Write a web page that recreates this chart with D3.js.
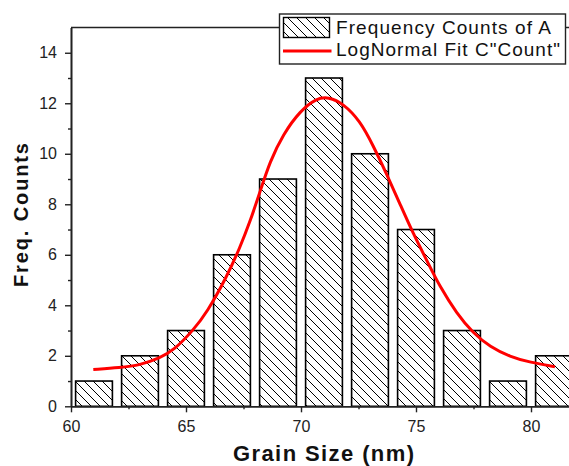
<!DOCTYPE html>
<html>
<head>
<meta charset="utf-8">
<script src="https://cdn.jsdelivr.net/npm/d3@7"></script>
<style>
  body { margin: 0; background: #fff; }
  svg { display: block; font-family: "Liberation Sans", Arial, sans-serif; }
</style>
</head>
<body>
<div id="chart"></div>
<script>
// Histogram bins (centre of each bin, width 2 nm)
const binCenters = [61, 63, 65, 67, 69, 71, 73, 75, 77, 79, 81];
const counts = [1, 2, 3, 6, 9, 13, 10, 7, 3, 1, 2];

// LogNormal fit curve
const fitX = [60.97, 62.13, 63.0, 63.87, 64.45, 65.32, 65.9, 66.77, 67.35, 67.78, 68.22, 68.65,
  69.23, 69.96, 70.68, 71.19, 71.84, 72.57, 73.14, 73.72, 74.3, 74.88, 75.47, 76.04,
  76.77, 77.49, 78.22, 79.09, 79.96, 81.04];
const fitY = [1.46, 1.53, 1.63, 1.92, 2.2, 3.02, 3.7, 5.12, 6.3, 7.3, 8.5, 9.7,
  10.78, 11.7, 12.2, 12.25, 11.99, 11.3, 10.32, 9.2, 8.02, 6.83, 5.78, 4.73,
  3.68, 2.89, 2.36, 1.96, 1.74, 1.57];

const xTicks = [60, 65, 70, 75, 80];
const xMinor = [62.5, 67.5, 72.5, 77.5];
const yTicks = [0, 2, 4, 6, 8, 10, 12, 14];
const yMinor = [1, 3, 5, 7, 9, 11, 13];

const legendLabels = ["Frequency Counts of A", "LogNormal Fit C\"Count\""];

const W = 569, H = 466;
const svg = d3.select("#chart").append("svg")
  .attr("width", W)
  .attr("height", H);

// hatch pattern
const defs = svg.append("defs");
const pat = defs.append("pattern")
  .attr("id", "hatch")
  .attr("patternUnits", "userSpaceOnUse")
  .attr("width", 9)
  .attr("height", 9);
pat.append("rect").attr("width", 9).attr("height", 9).attr("fill", "#fff");
pat.append("path")
  .attr("d", "M-2,-2 L11,11 M-2,7 L2,11 M7,-2 L11,2")
  .attr("stroke", "#000")
  .attr("stroke-width", 1);

// Scales
const x = d3.scaleLinear().domain([60, 82]).range([71, 577]);
const y = d3.scaleLinear().domain([0, 15]).range([406.3, 27.5]);
const binW = 2 * 0.8;

// Bars
svg.selectAll("rect.bar")
  .data(binCenters)
  .join("rect")
  .attr("class", "bar")
  .attr("x", (d) => x(d - binW / 2))
  .attr("y", (d, i) => y(counts[i]))
  .attr("width", (d) => x(d + binW / 2) - x(d - binW / 2))
  .attr("height", (d, i) => y(0) - y(counts[i]))
  .attr("fill", "url(#hatch)")
  .attr("stroke", "#000")
  .attr("stroke-width", 1.6);

// Fit curve
const line = d3.line()
  .x((d, i) => x(fitX[i]))
  .y((d) => y(d))
  .curve(d3.curveBasis);
svg.append("path")
  .attr("d", line(fitY))
  .attr("fill", "none")
  .attr("stroke", "#ff0000")
  .attr("stroke-width", 3);

// Frame (top line)
svg.append("line")
  .attr("x1", x(60)).attr("x2", x(82))
  .attr("y1", y(15)).attr("y2", y(15))
  .attr("stroke", "#222").attr("stroke-width", 1.6);

// Axes
const fmtAxis = (g) => {
  g.select(".domain").attr("stroke", "#222").attr("stroke-width", 1.6);
  g.selectAll(".tick line").attr("stroke", "#222").attr("stroke-width", 1.4);
  g.selectAll("text").attr("fill", "#222").style("font-size", "16px");
};

svg.append("g")
  .attr("transform", `translate(0,${y(0)})`)
  .call(d3.axisBottom(x).tickValues(xMinor).tickSize(3).tickSizeOuter(0).tickFormat(""))
  .call(fmtAxis);
svg.append("g")
  .attr("transform", `translate(0,${y(0)})`)
  .call(d3.axisBottom(x).tickValues(xTicks).tickSize(6).tickSizeOuter(0).tickPadding(8))
  .call(fmtAxis);

svg.append("g")
  .attr("transform", `translate(${x(60)},0)`)
  .call(d3.axisLeft(y).tickValues(yMinor).tickSize(3).tickSizeOuter(0).tickFormat(""))
  .call(fmtAxis);
svg.append("g")
  .attr("transform", `translate(${x(60)},0)`)
  .call(d3.axisLeft(y).tickValues(yTicks).tickSize(6).tickSizeOuter(0).tickPadding(8))
  .call(fmtAxis);

// Axis titles
svg.append("text")
  .attr("x", 323.5)
  .attr("y", 461)
  .attr("text-anchor", "middle")
  .attr("font-weight", "bold")
  .attr("font-size", "22px")
  .attr("textLength", 181)
  .attr("lengthAdjust", "spacing")
  .attr("fill", "#111")
  .text("Grain Size (nm)");

svg.append("text")
  .attr("transform", "translate(28,215) rotate(-90)")
  .attr("text-anchor", "middle")
  .attr("font-weight", "bold")
  .attr("font-size", "20px")
  .attr("textLength", 144)
  .attr("lengthAdjust", "spacing")
  .attr("fill", "#111")
  .text("Freq. Counts");

// Legend
const lg = svg.append("g");
lg.append("rect")
  .attr("x", 279.5).attr("y", 14)
  .attr("width", 286).attr("height", 50)
  .attr("fill", "#fff")
  .attr("stroke", "#222").attr("stroke-width", 1.4);
lg.append("rect")
  .attr("x", 283.5).attr("y", 17.5)
  .attr("width", 46).attr("height", 20)
  .attr("fill", "url(#hatch)")
  .attr("stroke", "#000").attr("stroke-width", 1.4);
lg.append("line")
  .attr("x1", 283).attr("x2", 331.5)
  .attr("y1", 51).attr("y2", 51)
  .attr("stroke", "#ff0000").attr("stroke-width", 3);
lg.selectAll("text.leg")
  .data(legendLabels)
  .join("text")
  .attr("class", "leg")
  .attr("x", 336)
  .attr("y", (d, i) => i === 0 ? 34 : 56)
  .attr("font-size", "19px")
  .attr("textLength", (d, i) => i === 0 ? 215 : 224)
  .attr("lengthAdjust", "spacing")
  .attr("fill", "#111")
  .text((d) => d);
</script>
</body>
</html>
